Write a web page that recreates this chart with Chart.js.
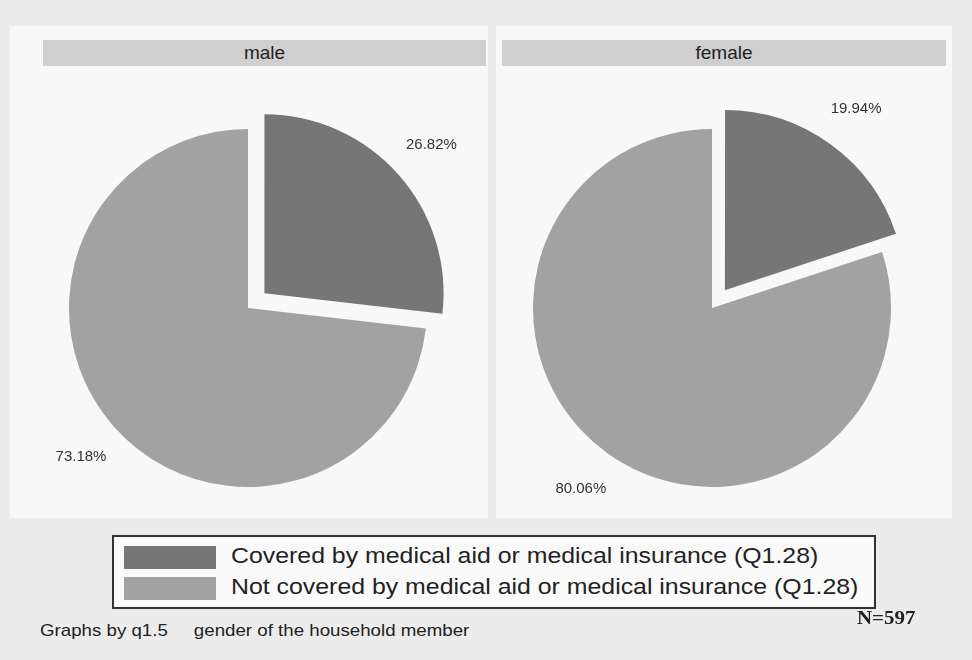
<!DOCTYPE html>
<html>
<head>
<meta charset="utf-8">
<script src="https://cdn.jsdelivr.net/npm/chart.js@4.4.0/dist/chart.umd.min.js"></script>
<style>
  html, body { margin: 0; padding: 0; }
  body { width: 972px; height: 660px; background: #ececec; position: relative; overflow: hidden;
         font-family: "Liberation Sans", Arial, sans-serif; }
  .panel { position: absolute; background: #f8f8f8; }
  .head { position: absolute; top: 40px; height: 26px; background: #cfcfcf; color: #222;
          font-size: 19px; line-height: 26px; text-align: center; }
  canvas { position: absolute; }
  #legend { position: absolute; left: 112px; top: 535px; width: 760px; height: 70px;
            border: 2px solid #333; background: #fafafa; }
  .row { position: absolute; left: 10px; height: 23px; }
  .sw { position: absolute; left: 0; top: 0; width: 92px; height: 23px; }
  .lt { position: absolute; left: 107px; top: -3px; font-size: 22px; white-space: nowrap; color: #222;
        transform: scaleX(1.13); transform-origin: left center; }
  #nnote { position: absolute; left: 857px; top: 607px; font-family: "Liberation Serif", serif;
           font-weight: bold; font-size: 19px; color: #222; transform: scaleX(1.1); transform-origin: left center; }
  #note { position: absolute; left: 40px; top: 621px; font-size: 17px; color: #222; white-space: pre;
          transform: scaleX(1.1); transform-origin: left center; }
</style>
</head>
<body>
<div class="panel" style="left:10px;top:26px;width:478px;height:492px"></div>
<div class="panel" style="left:496px;top:26px;width:456px;height:492px"></div>
<div class="head" style="left:43px;width:443px">male</div>
<div class="head" style="left:502px;width:444px">female</div>
<canvas id="pieMale" width="470" height="490" style="left:13px;top:63px"></canvas>
<canvas id="pieFemale" width="470" height="490" style="left:477px;top:63px"></canvas>
<div id="legend">
  <div class="row" style="top:9px"><div class="sw" style="background:#767676"></div><div class="lt" id="lab0"></div></div>
  <div class="row" style="top:40px"><div class="sw" style="background:#a2a2a2"></div><div class="lt" id="lab1"></div></div>
</div>
<div id="nnote">N=597</div>
<div id="note">Graphs by q1.5     gender of the household member</div>
<script>
var categories = ['Covered by medical aid or medical insurance (Q1.28)',
                  'Not covered by medical aid or medical insurance (Q1.28)'];
var maleValues = [26.82, 73.18];
var femaleValues = [19.94, 80.06];
var sliceColors = ['#767676', '#a2a2a2'];

document.getElementById('lab0').textContent = categories[0];
document.getElementById('lab1').textContent = categories[1];

// percent labels outside each slice (arc offset is drawn at offset/4 by chart.js)
var outsideLabels = {
    id: 'outsideLabels',
    afterDatasetsDraw: function (chart) {
        var ctx = chart.ctx;
        var meta = chart.getDatasetMeta(0);
        var values = chart.data.datasets[0].data;
        var offsets = chart.data.datasets[0].offset;
        ctx.save();
        ctx.font = '15px "Liberation Sans", Arial, sans-serif';
        ctx.fillStyle = '#333';
        ctx.textAlign = 'center';
        ctx.textBaseline = 'middle';
        meta.data.forEach(function (arc, i) {
            var a = (arc.startAngle + arc.endAngle) / 2;
            var d = arc.outerRadius * 1.25 + offsets[i] / 4;
            ctx.fillText(values[i].toFixed(2) + '%', arc.x + Math.cos(a) * d, arc.y + Math.sin(a) * d);
        });
        ctx.restore();
    }
};

function makePie(id, values) {
    var c = document.getElementById(id).getContext('2d');
    return new Chart(c, {
        type: 'pie',
        data: {
            labels: categories,
            datasets: [{
                data: values,
                backgroundColor: sliceColors,
                borderWidth: 0,
                offset: [88, 0]
            }]
        },
        options: {
            responsive: false,
            animation: false,
            radius: 179,
            layout: { padding: 0 },
            plugins: { legend: { display: false }, tooltip: { enabled: false } }
        },
        plugins: [outsideLabels]
    });
}

makePie('pieMale', maleValues);
makePie('pieFemale', femaleValues);
</script>
</body>
</html>
